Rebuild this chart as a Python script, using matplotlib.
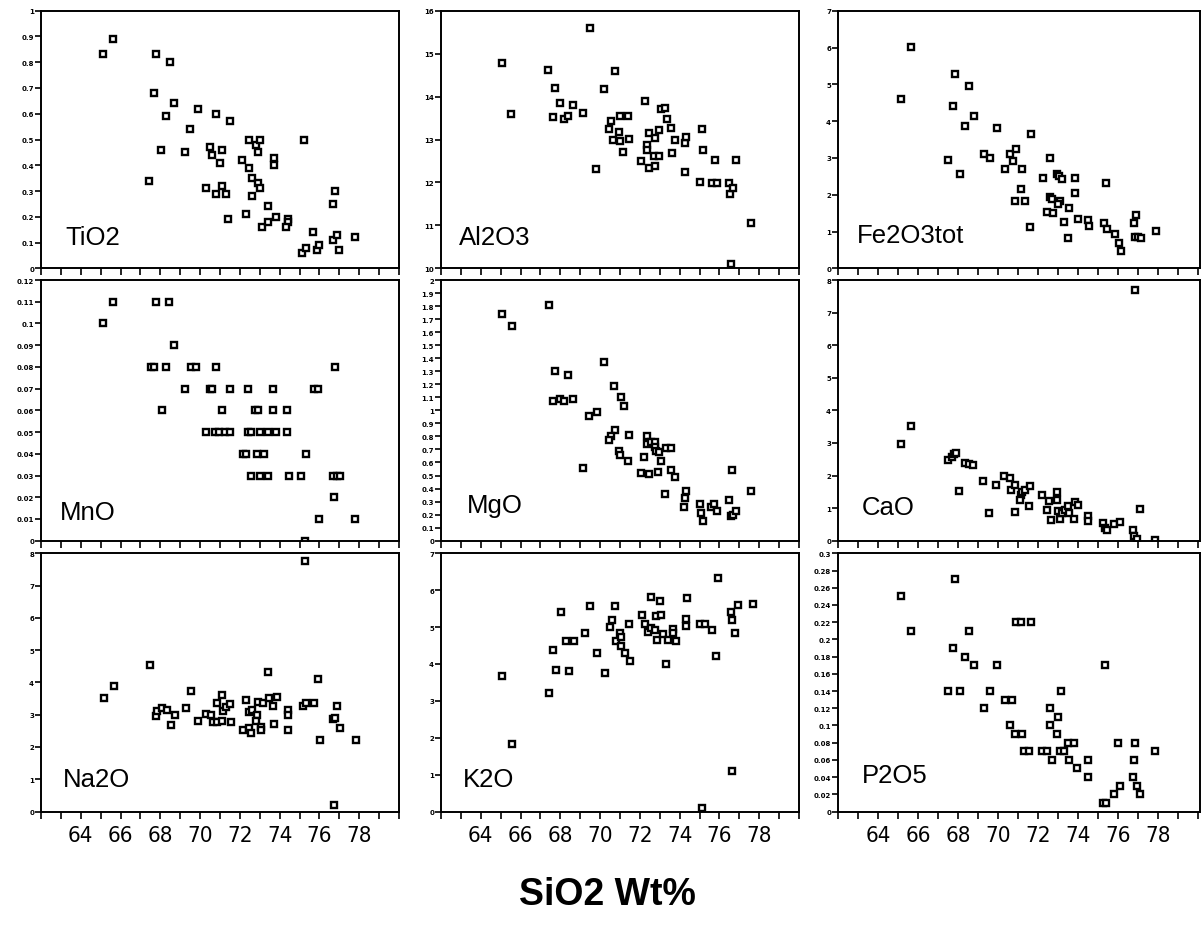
import numpy as np
import matplotlib.pyplot as plt

# SiO2 wt% (x) against each oxide (y)
tio2_si = [65.1, 65.6, 67.8, 68.5, 67.7, 68.7, 68.3, 69.9, 69.5, 70.8, 71.5, 68.05, 69.25, 70.5,
           70.6, 71.1, 71.0, 67.45, 70.3, 71.1, 70.8, 71.3, 71.4, 72.3, 72.1, 72.45, 72.45, 72.6,
           72.6, 72.8, 72.9, 73.0, 72.9, 73.0, 73.4, 73.1, 73.4, 73.7, 73.7, 73.8, 74.4, 74.4,
           74.3, 75.2, 75.1, 75.3, 75.7, 75.9, 76.0, 76.7, 76.8, 76.7, 76.9, 77.0, 77.8]
tio2 = [0.83, 0.89, 0.83, 0.80, 0.68, 0.64, 0.59, 0.62, 0.54, 0.60, 0.57, 0.46, 0.45, 0.47,
        0.44, 0.46, 0.41, 0.34, 0.31, 0.32, 0.29, 0.29, 0.19, 0.21, 0.42, 0.50, 0.39, 0.35,
        0.28, 0.48, 0.45, 0.50, 0.33, 0.31, 0.24, 0.16, 0.18, 0.43, 0.40, 0.20, 0.19, 0.18,
        0.16, 0.50, 0.06, 0.08, 0.14, 0.07, 0.09, 0.25, 0.30, 0.11, 0.13, 0.07, 0.12]

al2o3_si = [65.07, 65.53, 67.4, 67.73, 67.62, 67.98, 68.2, 68.4, 68.62, 69.15, 69.48, 69.78,
            70.2, 70.73, 70.55, 70.45, 70.67, 70.95, 71.0, 71.02, 71.17, 71.42, 71.45, 72.07,
            72.25, 72.35, 72.37, 72.48, 72.48, 72.7, 72.78, 72.78, 72.95, 72.95, 73.05, 73.28,
            73.35, 73.58, 73.62, 73.75, 74.25, 74.25, 74.32, 75.03, 75.12, 75.17, 75.62, 75.87,
            75.78, 76.5, 76.55, 76.7, 76.85, 76.58, 77.58]
al2o3 = [14.79, 13.6, 14.62, 14.19, 13.52, 13.86, 13.48, 13.54, 13.81, 13.62, 15.6, 12.32,
         14.17, 14.59, 13.44, 13.24, 12.98, 13.17, 12.96, 13.54, 12.71, 13.54, 13.01, 12.51,
         13.89, 12.87, 12.75, 13.15, 12.34, 12.62, 12.38, 13.03, 13.22, 12.62, 13.72, 13.73,
         13.47, 13.27, 12.68, 12.98, 12.25, 12.93, 13.06, 12.01, 13.24, 12.76, 11.98, 11.98,
         12.53, 11.98, 11.73, 11.87, 12.53, 10.09, 11.06]

fe2o3_si = [65.17, 65.67, 67.87, 68.53, 67.77, 68.37, 68.8, 67.52, 68.12, 69.95, 69.32, 69.6,
            70.37, 70.6, 70.92, 70.73, 71.2, 71.17, 70.87, 71.37, 71.62, 71.65, 72.27, 72.58,
            72.6, 72.68, 72.45, 72.75, 72.93, 73.05, 73.22, 73.12, 73.0, 73.3, 73.57, 73.87,
            73.83, 73.52, 74.0, 74.5, 74.55, 75.38, 75.28, 75.43, 75.87, 76.03, 76.15, 76.8,
            76.9, 76.83, 77.0, 77.13, 77.92]
fe2o3 = [4.6, 6.02, 5.27, 4.95, 4.4, 3.88, 4.15, 2.93, 2.56, 3.8, 3.1, 2.99,
         2.69, 3.11, 3.23, 2.91, 2.69, 2.16, 1.83, 1.83, 1.12, 3.65, 2.46, 3.0,
         1.95, 1.88, 1.53, 1.5, 2.55, 2.5, 2.43, 1.83, 1.75, 1.25, 1.64, 2.46,
         2.05, 0.82, 1.34, 1.32, 1.16, 2.32, 1.23, 1.06, 0.93, 0.7, 0.48, 1.24,
         1.45, 0.86, 0.86, 0.83, 1.01]

mno_si = [65.62, 67.78, 68.45, 65.12, 68.7,
          67.53, 67.7, 68.28, 69.53, 69.78, 70.78, 76.78,
          69.25, 70.48, 70.62, 71.48, 72.4, 73.65, 75.72, 75.95,
          68.07, 71.08, 72.78, 72.92, 73.67, 74.38,
          70.28, 70.75, 70.95, 71.23, 71.48, 72.42, 72.58, 73.03, 73.42, 73.83, 74.38,
          72.17, 72.32, 72.87, 73.2, 75.3,
          72.58, 73.03, 73.42, 74.45, 75.08, 76.67, 76.87, 77.03,
          76.73, 76.0, 77.8, 75.25]
mno = [0.11, 0.11, 0.11, 0.10, 0.09,
       0.08, 0.08, 0.08, 0.08, 0.08, 0.08, 0.08,
       0.07, 0.07, 0.07, 0.07, 0.07, 0.07, 0.07, 0.07,
       0.06, 0.06, 0.06, 0.06, 0.06, 0.06,
       0.05, 0.05, 0.05, 0.05, 0.05, 0.05, 0.05, 0.05, 0.05, 0.05, 0.05,
       0.04, 0.04, 0.04, 0.04, 0.04,
       0.03, 0.03, 0.03, 0.03, 0.03, 0.03, 0.03, 0.03,
       0.02, 0.01, 0.01, 0.0]

mgo_si = [65.07, 65.55, 67.42, 67.73, 67.62, 67.98, 68.2, 68.4, 68.62, 69.15, 69.45, 69.82,
          70.22, 70.72, 71.03, 71.18, 70.73, 70.55, 70.43, 70.95, 71.0, 71.43, 71.38, 72.07,
          72.23, 72.48, 72.37, 72.37, 72.58, 72.75, 72.75, 72.82, 72.95, 73.08, 72.92, 73.3,
          73.58, 73.58, 73.75, 73.27, 74.32, 74.25, 74.23, 75.02, 75.08, 75.17, 75.57, 75.73,
          75.87, 76.5, 76.62, 76.57, 76.7, 76.85, 77.58]
mgo = [1.74, 1.65, 1.81, 1.3, 1.07, 1.09, 1.07, 1.27, 1.09, 0.56, 0.96, 0.99,
       1.37, 1.19, 1.1, 1.03, 0.85, 0.8, 0.77, 0.69, 0.66, 0.81, 0.61, 0.52,
       0.64, 0.51, 0.8, 0.74, 0.76, 0.76, 0.72, 0.69, 0.68, 0.61, 0.53, 0.71,
       0.71, 0.54, 0.49, 0.36, 0.38, 0.33, 0.26, 0.28, 0.21, 0.15, 0.26, 0.28,
       0.23, 0.31, 0.54, 0.19, 0.2, 0.23, 0.38]

cao_si = [65.13, 65.63, 76.87, 67.48, 67.68, 67.8, 67.88, 68.07, 68.35, 68.53, 68.77, 69.27,
          69.57, 69.9, 70.32, 70.58, 70.67, 70.87, 70.83, 71.13, 71.12, 71.22, 71.35, 71.58,
          71.55, 72.22, 72.43, 72.57, 72.67, 72.93, 72.97, 73.0, 73.12, 73.2, 73.37, 73.5,
          73.55, 73.8, 73.83, 73.98, 74.5, 74.5, 75.25, 75.33, 75.45, 75.8, 76.08, 76.77,
          76.8, 76.95, 77.08, 77.83]
cao = [2.98, 3.51, 7.69, 2.48, 2.58, 2.66, 2.68, 1.51, 2.39, 2.35, 2.31, 1.83,
       0.85, 1.72, 2.0, 1.91, 1.56, 1.7, 0.88, 1.39, 1.24, 1.5, 1.55, 1.68,
       1.05, 1.41, 0.93, 1.23, 0.62, 1.49, 1.24, 0.9, 0.66, 0.85, 0.93, 1.06,
       0.85, 0.66, 1.18, 1.11, 0.75, 0.6, 0.54, 0.38, 0.32, 0.52, 0.57, 0.34,
       0.13, 0.05, 0.97, 0.01]

na2o_si = [65.17, 65.67, 67.5, 67.77, 67.83, 68.08, 68.32, 68.52, 68.75, 69.28, 69.55, 69.9,
           70.3, 70.55, 70.65, 70.87, 71.12, 70.85, 71.08, 71.15, 71.28, 71.52, 71.53, 72.17,
           72.33, 72.45, 72.62, 72.45, 72.57, 72.88, 72.82, 72.9, 73.05, 73.05, 73.17, 73.42,
           73.47, 73.87, 73.68, 73.7, 74.4, 74.4, 74.43, 75.15, 75.33, 75.25, 75.73, 75.95,
           76.03, 76.7, 76.78, 76.9, 77.02, 77.82, 76.75]
na2o = [3.52, 3.88, 4.55, 2.97, 3.1, 3.21, 3.15, 2.67, 2.99, 3.22, 3.73, 2.8,
        3.03, 2.99, 2.76, 2.76, 2.79, 3.37, 3.6, 3.1, 3.24, 3.33, 2.76, 2.52,
        3.45, 3.08, 3.13, 2.59, 2.44, 2.98, 2.8, 3.39, 2.62, 2.54, 3.37, 4.33,
        3.52, 3.55, 3.28, 2.72, 3.13, 2.98, 2.52, 3.27, 3.36, 7.77, 3.35, 4.09,
        2.23, 2.88, 2.9, 3.28, 2.59, 2.2, 0.2]

k2o_si = [65.07, 65.57, 67.43, 67.65, 67.78, 68.03, 68.27, 68.45, 68.67, 69.23, 69.5, 69.85,
          70.25, 70.48, 70.62, 70.77, 70.78, 71.02, 71.05, 71.07, 71.23, 71.47, 71.5, 72.12,
          72.28, 72.42, 72.55, 72.55, 72.78, 72.83, 73.05, 73.0, 72.85, 73.15, 73.33, 73.42,
          73.65, 73.65, 73.8, 74.37, 74.32, 74.32, 75.03, 75.25, 75.63, 75.92, 75.83, 76.57,
          76.65, 76.78, 76.92, 77.7, 76.65, 75.1]
k2o = [3.67, 1.82, 3.22, 4.38, 3.84, 5.42, 4.63, 3.82, 4.62, 4.84, 5.57, 4.3,
       3.75, 5.01, 5.19, 5.57, 4.61, 4.83, 4.74, 4.48, 4.31, 5.07, 4.08, 5.33,
       5.09, 4.86, 5.82, 4.97, 4.91, 5.29, 5.33, 5.72, 4.65, 4.8, 4.0, 4.66,
       4.96, 4.85, 4.62, 5.79, 5.22, 5.04, 5.07, 5.07, 4.92, 6.33, 4.22, 5.42,
       5.18, 4.85, 5.61, 5.63, 1.11, 0.1]

p2o5_si = [65.17, 65.67, 67.87, 67.75, 67.5, 68.12, 68.37, 68.53, 68.78, 69.28, 69.62, 69.93,
           70.33, 70.7, 70.58, 70.83, 71.2, 70.88, 71.17, 71.65, 71.3, 71.57, 72.2, 72.43,
           72.68, 72.58, 73.0, 72.58, 72.95, 73.15, 73.12, 73.3, 73.5, 73.8, 73.55, 73.97,
           74.5, 74.5, 75.37, 76.0, 76.87, 76.8, 76.77, 76.08, 76.93, 77.85, 75.8, 75.25,
           75.42, 77.08]
p2o5 = [0.25, 0.21, 0.27, 0.19, 0.14, 0.14, 0.18, 0.21, 0.17, 0.12, 0.14, 0.17,
        0.13, 0.13, 0.10, 0.09, 0.09, 0.22, 0.22, 0.22, 0.07, 0.07, 0.07, 0.07,
        0.06, 0.12, 0.11, 0.10, 0.09, 0.14, 0.07, 0.07, 0.08, 0.08, 0.06, 0.05,
        0.06, 0.04, 0.17, 0.08, 0.08, 0.06, 0.04, 0.03, 0.03, 0.07, 0.02, 0.01,
        0.01, 0.02]

names = ['TiO2', 'Al2O3', 'Fe2O3tot', 'MnO', 'MgO', 'CaO', 'Na2O', 'K2O', 'P2O5']
xs = [tio2_si, al2o3_si, fe2o3_si, mno_si, mgo_si, cao_si, na2o_si, k2o_si, p2o5_si]
ys = [tio2, al2o3, fe2o3, mno, mgo, cao, na2o, k2o, p2o5]
yranges = [(0, 1, 0.1), (10, 16, 1), (0, 7, 1),
           (0, 0.12, 0.01), (0, 2, 0.1), (0, 8, 1),
           (0, 8, 1), (0, 7, 1), (0, 0.3, 0.02)]
x_labels = ['64', '66', '68', '70', '72', '74', '76', '78']

# panel frames in pixels of the 1203x929 image
W, H = 1203, 929
lefts = [41, 441, 838]
widths = [358, 358, 362]
tops = [11.7, 281, 554.3]
bots = [269.3, 541.7, 812.5]
name_pos = [(0.067, 0.094), (0.05, 0.094), (0.052, 0.103),
            (0.053, 0.083), (0.073, 0.109), (0.065, 0.102),
            (0.062, 0.098), (0.062, 0.098), (0.065, 0.113)]

fig = plt.figure(figsize=(W / 100, H / 100), dpi=100)

for i in range(9):
    r, c = divmod(i, 3)
    ax = fig.add_axes([lefts[c] / W, 1 - bots[r] / H, widths[c] / W, (bots[r] - tops[r]) / H])
    ax.plot(xs[i], ys[i], ls='none', marker='s', ms=4.2, mfc='white', mec='black', mew=1.7)

    ax.set_xlim(62, 62 + widths[c] / 20.0)
    ax.set_xticks(np.arange(62, 81))
    if r == 2:
        lab = [str(v) if str(v) in x_labels else '' for v in range(62, 81)]
        ax.set_xticklabels(lab, fontsize=16, family='DejaVu Sans', fontstretch='condensed')
    else:
        ax.set_xticklabels([])

    lo, hi, step = yranges[i]
    ticks = np.round(np.arange(lo, hi + step / 2, step), 3)
    ax.set_ylim(lo, hi)
    ax.set_yticks(ticks)
    ax.set_yticklabels(['%g' % t for t in ticks], fontsize=5, fontweight='bold')

    ax.tick_params(axis='x', direction='out', length=5, width=1.2, pad=5)
    ax.tick_params(axis='y', direction='out', length=4, width=1.2, pad=1)
    for s in ax.spines.values():
        s.set_linewidth(1.4)

    ax.text(name_pos[i][0], name_pos[i][1], names[i], transform=ax.transAxes,
            fontsize=18.5, family='Liberation Sans', va='baseline', ha='left')

fig.text(0.505, 1 - 895 / H, 'SiO2 Wt%', fontsize=27, fontweight='bold',
         family='Liberation Sans', ha='center', va='center')

fig.savefig('out.png', dpi=100)
